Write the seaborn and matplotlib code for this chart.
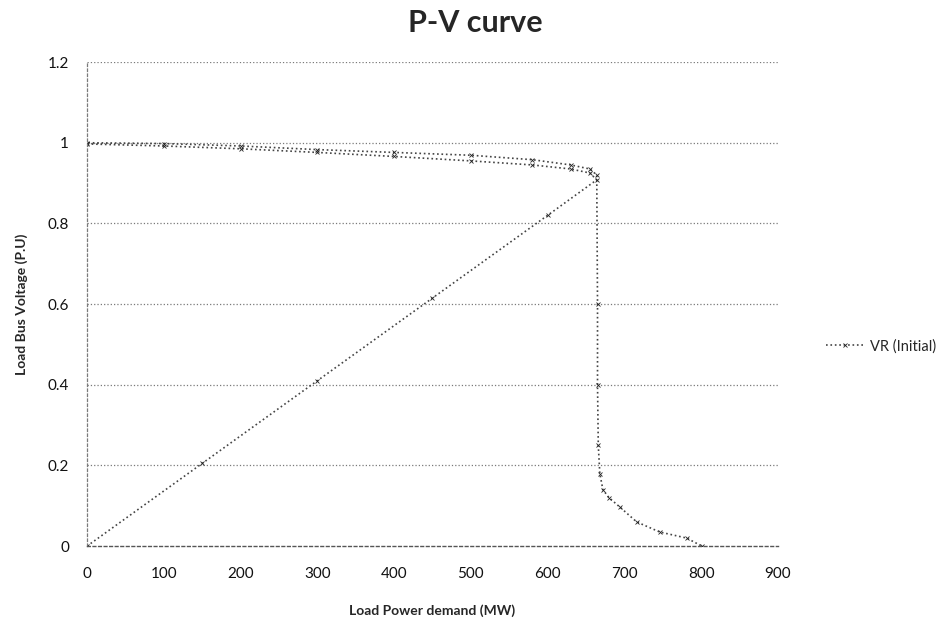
import pandas as pd
import matplotlib
matplotlib.use("Agg")
import matplotlib.pyplot as plt
import seaborn as sns

# P-V curve, one series traced in the order the points were recorded
load_mw = [0, 150, 300, 450, 600, 664,
           655, 630, 580, 500, 400, 300, 200, 100, 0,
           0, 100, 200, 300, 400, 500, 580, 630, 655, 664,
           665, 665, 666, 668, 672, 680, 694, 716, 746, 781, 801]
bus_v = [0, 0.205, 0.41, 0.615, 0.82, 0.908,
         0.925, 0.935, 0.945, 0.955, 0.966, 0.976, 0.985, 0.992, 0.997,
         1.0, 0.998, 0.992, 0.983, 0.976, 0.969, 0.958, 0.945, 0.935, 0.92,
         0.6, 0.4, 0.25, 0.18, 0.14, 0.12, 0.097, 0.06, 0.035, 0.02, 0.0]

x_ticks = [0, 100, 200, 300, 400, 500, 600, 700, 800, 900]
y_ticks = [0, 0.2, 0.4, 0.6, 0.8, 1, 1.2]
y_labels = ["0", "0.2", "0.4", "0.6", "0.8", "1", "1.2"]

df = pd.DataFrame({"P": load_mw, "V": bus_v})

sns.set_style("white")
plt.rcParams["font.family"] = ["Lato", "DejaVu Sans"]

fig = plt.figure(figsize=(9.51, 6.27), dpi=100)
ax = fig.add_axes([0.0915, 0.129, 0.7265, 0.772])

sns.lineplot(data=df, x="P", y="V", sort=False, estimator=None, ax=ax,
             color="#444444", linestyle=":", linewidth=1.2,
             marker="x", markersize=3, markeredgewidth=0.6,
             markeredgecolor="#222222", label="VR (Initial)")

ax.set_xlim(0, 900)
ax.set_ylim(0, 1.2)
ax.set_xticks(x_ticks)
ax.set_xticklabels([str(t) for t in x_ticks])
ax.set_yticks(y_ticks)
ax.set_yticklabels(y_labels)

# horizontal dotted gridlines only
for yv in y_ticks[1:]:
    ax.axhline(yv, color="#7a7a7a", linestyle=":", linewidth=0.9, zorder=0)

for s in ["top", "right"]:
    ax.spines[s].set_visible(False)
ax.spines["left"].set_linestyle((0, (2, 2)))
ax.spines["left"].set_color("#7a7a7a")
ax.spines["left"].set_linewidth(0.9)
ax.spines["bottom"].set_linestyle((0, (2, 2)))
ax.spines["bottom"].set_color("#555555")
ax.spines["bottom"].set_linewidth(1.0)

ax.tick_params(axis="both", which="both", length=3, width=0.6, color="#888888",
               labelsize=11, labelcolor="#111111", pad=12)
ax.tick_params(axis="y", pad=10)

fig.suptitle("P-V curve", x=0.5, y=0.985, fontsize=22, fontweight="bold")
ax.set_xlabel("Load Power demand (MW)", fontsize=10, fontweight="bold", labelpad=17)
ax.set_ylabel("Load Bus Voltage (P.U)", fontsize=10, fontweight="bold", labelpad=14)

ax.legend(loc="center left", bbox_to_anchor=(0.855, 0.448),
          bbox_transform=fig.transFigure, frameon=False, fontsize=10.5,
          handlelength=2.6, handletextpad=0.4)

fig.savefig("out.png", dpi=100)
